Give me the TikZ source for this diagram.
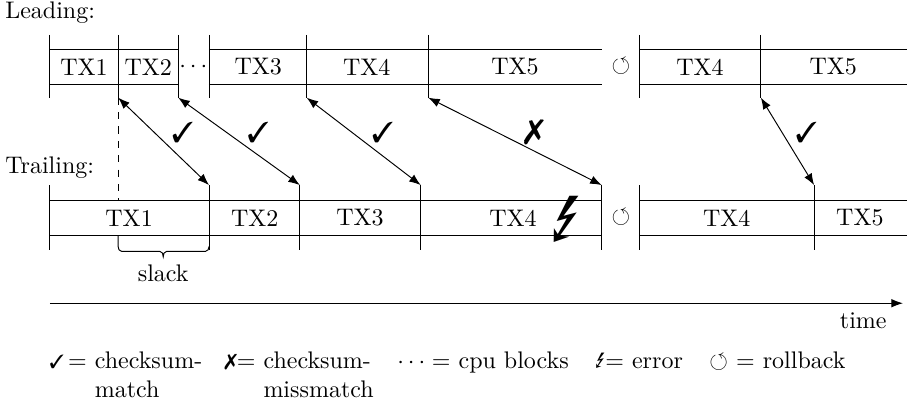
\documentclass[tikz,border=0pt]{standalone}
\usepackage{amssymb}
\usepackage{pifont}
\usepackage{marvosym}
\usepackage{tikz}
\usetikzlibrary{arrows.meta,positioning,calc}

\begin{document}
\begin{tikzpicture}[>=Latex,every node/.style={align=center},sym/.style={font=\large,xshift=0.28cm,yshift=0.13cm},legend/.style={anchor=base west,inner sep=0pt}]
\useasboundingbox (0,0) rectangle (13.28,-5.90);
\node[anchor=west,inner sep=0pt] (lead) at (0.07,-0.19) {Leading:};
\node[anchor=west,inner sep=0pt] (trail) at (0.07,-2.45) {Trailing:};
% leading row
\draw (0.73,-0.73)--(2.61,-0.73) (0.73,-1.23)--(2.61,-1.23);
\draw (3.06,-0.73)--(8.81,-0.73) (3.06,-1.23)--(8.81,-1.23);
\draw (9.37,-0.73)--(13.28,-0.73) (9.37,-1.23)--(13.28,-1.23);
\foreach \x/\n in {0.73/la,1.73/lb,2.61/lc,3.06/ld,4.49/le,6.27/lf,9.37/lg,11.14/lh}
  \draw (\x,-0.51)--(\x,-1.43) coordinate (\n);
\node (l1) at (1.23,-0.98) {TX1};
\node (l2) at (2.17,-0.98) {TX2};
\node (ldots) at (2.83,-0.98) {$\cdots$};
\node (l3) at (3.78,-0.98) {TX3};
\node (l4) at (5.37,-0.98) {TX4};
\node (l5) at (7.54,-0.98) {TX5};
\node (lrb) at (9.09,-0.98) {$\circlearrowleft$};
\node (l4b) at (10.25,-0.98) {TX4};
\node (l5b) at (12.20,-0.98) {TX5};
% trailing row
\draw (0.73,-2.94)--(8.81,-2.94) (0.73,-3.45)--(8.81,-3.45);
\draw (9.37,-2.94)--(13.28,-2.94) (9.37,-3.45)--(13.28,-3.45);
\foreach \x/\n in {0.73/ta,3.06/tb,4.39/tc,6.16/td,8.81/te,9.37/tf,11.92/tg}
  \draw (\x,-3.66)--(\x,-2.71) coordinate (\n);
\node (t1) at (1.89,-3.19) {TX1};
\node (t2) at (3.73,-3.19) {TX2};
\node (t3) at (5.27,-3.19) {TX3};
\node (t4) at (7.51,-3.19) {TX4};
\node[font=\fontsize{27}{27}\selectfont] (err) at (8.30,-3.22) {\Lightning};
\node (trb) at (9.09,-3.19) {$\circlearrowleft$};
\node (t4b) at (10.64,-3.19) {TX4};
\node (t5b) at (12.59,-3.19) {TX5};
% checksums
\draw[<->] (lb)--(tb) node[midway,sym]{\ding{51}};
\draw[<->] (lc)--(tc) node[midway,sym]{\ding{51}};
\draw[<->] (le)--(td) node[midway,sym]{\ding{51}};
\draw[<->] (lf)--(te) node[midway,sym,font=\Large]{\ding{55}};
\draw[<->] (lh)--(tg) node[midway,sym]{\ding{51}};
% slack
\coordinate (sl) at (1.73,-2.94);
\draw[dashed] (lb)--(sl);
\draw (1.73,-3.45)--(1.73,-3.61) to[out=-90,in=180] (1.78,-3.68)--(2.34,-3.68) to[out=0,in=90] (2.39,-3.76) to[out=90,in=180] (2.44,-3.68)--(3.01,-3.68) to[out=0,in=-90] (3.06,-3.61);
\node (slack) at (2.39,-4.00) {slack};
% time axis
\coordinate (t0) at (0.73,-4.44);
\coordinate (t9) at (13.22,-4.44);
\draw[->] (t0)--(t9);
\node (time) at (12.64,-4.69) {time};
% legend
\node[legend] (kok) at (0.72,-5.40) {{\footnotesize\ding{51}}\,$=$ \begin{tabular}[t]{@{}l@{}}checksum-\\match\end{tabular}};
\node[legend] (kno) at (3.28,-5.40) {{\small\ding{55}}$=$ \begin{tabular}[t]{@{}l@{}}checksum-\\missmatch\end{tabular}};
\node[legend] (kdots) at (5.81,-5.40) {$\cdots =$ cpu blocks};
\node[legend] (kerr) at (8.71,-5.40) {{\small\Lightning}$=$ error};
\node[legend] (krb) at (10.38,-5.40) {$\circlearrowleft$ $=$ rollback};
\end{tikzpicture}
\end{document}
